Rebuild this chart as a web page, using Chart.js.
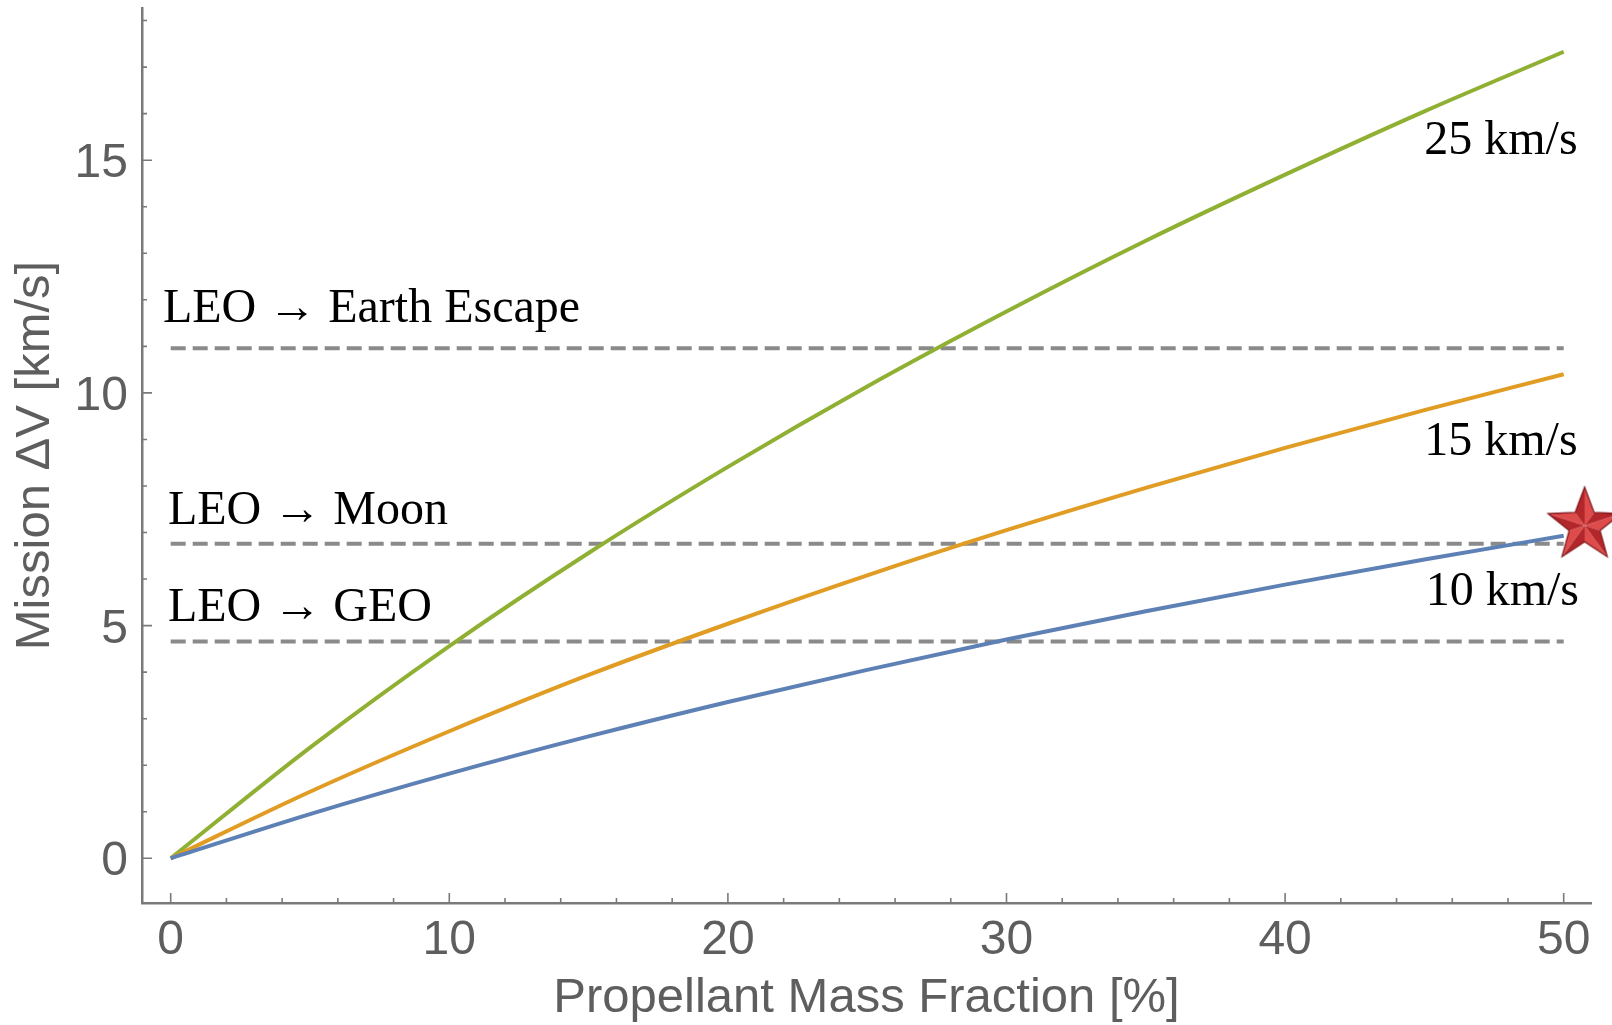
<!DOCTYPE html>
<html>
<head>
<meta charset="utf-8">
<title>Mission ΔV vs propellant mass fraction</title>
<script src="https://cdn.jsdelivr.net/npm/chart.js@4.4.1/dist/chart.umd.min.js"></script>
<style>
  html, body { margin: 0; padding: 0; background: #fff; }
  #wrap { width: 1612px; height: 1025px; }
</style>
</head>
<body>
<div id="wrap"><canvas id="dvChart" width="1612" height="1025"></canvas></div>
<script>
// values
var massFraction = [0, 5, 10, 15, 20, 25, 30, 35, 40, 45, 50];
var dv10 = [0, 0.95, 1.82, 2.62, 3.36, 4.05, 4.70, 5.31, 5.88, 6.42, 6.93];
var dv15 = [0, 1.43, 2.73, 3.94, 5.04, 6.08, 7.05, 7.96, 8.82, 9.63, 10.40];
var dv25 = [0, 2.38, 4.56, 6.56, 8.41, 10.14, 11.75, 13.27, 14.69, 16.05, 17.33];
var curveLabels = ["10 km/s", "15 km/s", "25 km/s"];

var missionLevels = [10.96, 6.76, 4.66];
var missionLabels = ["LEO \u2192 Earth Escape", "LEO \u2192 Moon", "LEO \u2192 GEO"];
var missionSpan = [0, 50];

var starPoint = [50.75, 7.15];

var xTickLabels = [0, 10, 20, 30, 40, 50];
var yTickLabels = [0, 5, 10, 15];

var axisGray = "#7a7a7a",
    labelGray = "#5e5e5e",
    dashGray = "#8a8a8a",
    sansFont = "'Liberation Sans', Arial, sans-serif",
    serifFont = "'Liberation Serif', 'Times New Roman', serif";

function toPoints(xs, ys) {
    return xs.map(function (x, i) { return { x: x, y: ys[i] }; });
}

function makeStar(size) {
    var c = document.createElement("canvas");
    c.width = c.height = size;
    var g = c.getContext("2d"),
        cx = size / 2, cy = size / 2,
        R = size * 0.47, r = R * 0.42,
        pts = [];
    for (var i = 0; i < 10; i++) {
        var a = -Math.PI / 2 + (i * Math.PI) / 5, rad = i % 2 ? r : R;
        pts.push([cx + rad * Math.cos(a), cy + rad * Math.sin(a)]);
    }
    for (i = 0; i < 10; i++) {
        var p = pts[i], q = pts[(i + 1) % 10];
        g.beginPath();
        g.moveTo(cx, cy);
        g.lineTo(p[0], p[1]);
        g.lineTo(q[0], q[1]);
        g.closePath();
        g.fillStyle = i % 2 ? "#b3272b" : "#de4b4b";
        g.fill();
    }
    g.beginPath();
    g.moveTo(pts[0][0], pts[0][1]);
    for (i = 1; i < 10; i++) g.lineTo(pts[i][0], pts[i][1]);
    g.closePath();
    g.lineWidth = 1.2;
    g.strokeStyle = "#7c1417";
    g.stroke();
    return c;
}

// inward tick marks (major + minor) and the tick numbers
var axisTicksPlugin = {
    id: "axisTicks",
    afterDraw: function (chart) {
        var ctx = chart.ctx, xs = chart.scales.x, ys = chart.scales.y, area = chart.chartArea, v, p, len;
        ctx.save();
        ctx.strokeStyle = axisGray;
        ctx.lineWidth = 1.6;
        ctx.beginPath();
        for (v = 0; v <= 50; v += 2) {
            p = xs.getPixelForValue(v);
            len = v % 10 === 0 ? 10 : 5;
            ctx.moveTo(p, area.bottom);
            ctx.lineTo(p, area.bottom - len);
        }
        for (v = 0; v <= 18; v++) {
            p = ys.getPixelForValue(v);
            len = v % 5 === 0 ? 10 : 5;
            ctx.moveTo(area.left, p);
            ctx.lineTo(area.left + len, p);
        }
        ctx.stroke();

        ctx.fillStyle = labelGray;
        ctx.font = "48px " + sansFont;
        ctx.textBaseline = "alphabetic";
        ctx.textAlign = "center";
        xTickLabels.forEach(function (t) {
            ctx.fillText(String(t), xs.getPixelForValue(t), area.bottom + 51);
        });
        ctx.textAlign = "right";
        yTickLabels.forEach(function (t) {
            ctx.fillText(String(t), area.left - 14, ys.getPixelForValue(t) + 17);
        });
        ctx.restore();
    }
};

// text annotations on the plot
var annotationPlugin = {
    id: "plotText",
    afterDatasetsDraw: function (chart) {
        var ctx = chart.ctx, xs = chart.scales.x, ys = chart.scales.y;
        ctx.save();
        ctx.fillStyle = "#000";
        ctx.font = "48px " + serifFont;
        ctx.textBaseline = "alphabetic";
        ctx.textAlign = "left";
        var leftAt = [[-0.28, 11.53], [-0.1, 7.19], [-0.1, 5.1]];
        missionLabels.forEach(function (t, i) {
            ctx.fillText(t, xs.getPixelForValue(leftAt[i][0]), ys.getPixelForValue(leftAt[i][1]));
        });
        ctx.textAlign = "right";
        var rightAt = [[50.55, 5.45], [50.5, 8.67], [50.5, 15.14]];
        curveLabels.forEach(function (t, i) {
            ctx.fillText(t, xs.getPixelForValue(rightAt[i][0]), ys.getPixelForValue(rightAt[i][1]));
        });
        ctx.restore();
    }
};

var datasets = [
    { data: toPoints(massFraction, dv10), borderColor: "#5e81b5" },
    { data: toPoints(massFraction, dv15), borderColor: "#e19c24" },
    { data: toPoints(massFraction, dv25), borderColor: "#8fb032" }
].map(function (d, i) {
    return Object.assign(d, { label: curveLabels[i], borderWidth: 4, pointRadius: 0, cubicInterpolationMode: "monotone", fill: false });
});
missionLevels.forEach(function (lv, i) {
    datasets.push({
        label: missionLabels[i],
        data: toPoints(missionSpan, [lv, lv]),
        borderColor: dashGray,
        borderWidth: 4,
        borderDash: [15, 7],
        pointRadius: 0,
        fill: false
    });
});
datasets.unshift({
    label: "star",
    data: [{ x: starPoint[0], y: starPoint[1] }],
    pointStyle: makeStar(82),
    pointRadius: 40,
    showLine: false,
    clip: false
});

var dvChart = new Chart(document.getElementById("dvChart"), {
    type: "line",
    data: { datasets: datasets },
    options: {
        responsive: false,
        animation: false,
        layout: { autoPadding: false, padding: { top: 8, right: 21, left: 0, bottom: 0 } },
        plugins: { legend: { display: false }, tooltip: { enabled: false } },
        scales: {
            x: {
                type: "linear",
                min: -1.03,
                max: 50.98,
                afterBuildTicks: function (s) { s.ticks = xTickLabels.map(function (v) { return { value: v }; }); },
                afterFit: function (s) { s.height = 122; },
                grid: { display: false, drawTicks: false },
                border: { display: true, color: axisGray, width: 2.5 },
                ticks: { display: false },
                title: { display: true, text: "Propellant Mass Fraction [%]", color: labelGray, font: { family: sansFont, size: 49, lineHeight: 1 }, padding: { top: 0, bottom: 2 } }
            },
            y: {
                type: "linear",
                min: -0.96,
                max: 18.27,
                afterBuildTicks: function (s) { s.ticks = yTickLabels.map(function (v) { return { value: v }; }); },
                afterFit: function (s) { s.width = 142; },
                grid: { display: false, drawTicks: false },
                border: { display: true, color: axisGray, width: 2.5 },
                ticks: { display: false },
                title: { display: true, text: "Mission \u0394V [km/s]", color: labelGray, font: { family: sansFont, size: 49, lineHeight: 1 }, padding: { top: 11, bottom: 0 } }
            }
        }
    },
    plugins: [axisTicksPlugin, annotationPlugin]
});
</script>
</body>
</html>
